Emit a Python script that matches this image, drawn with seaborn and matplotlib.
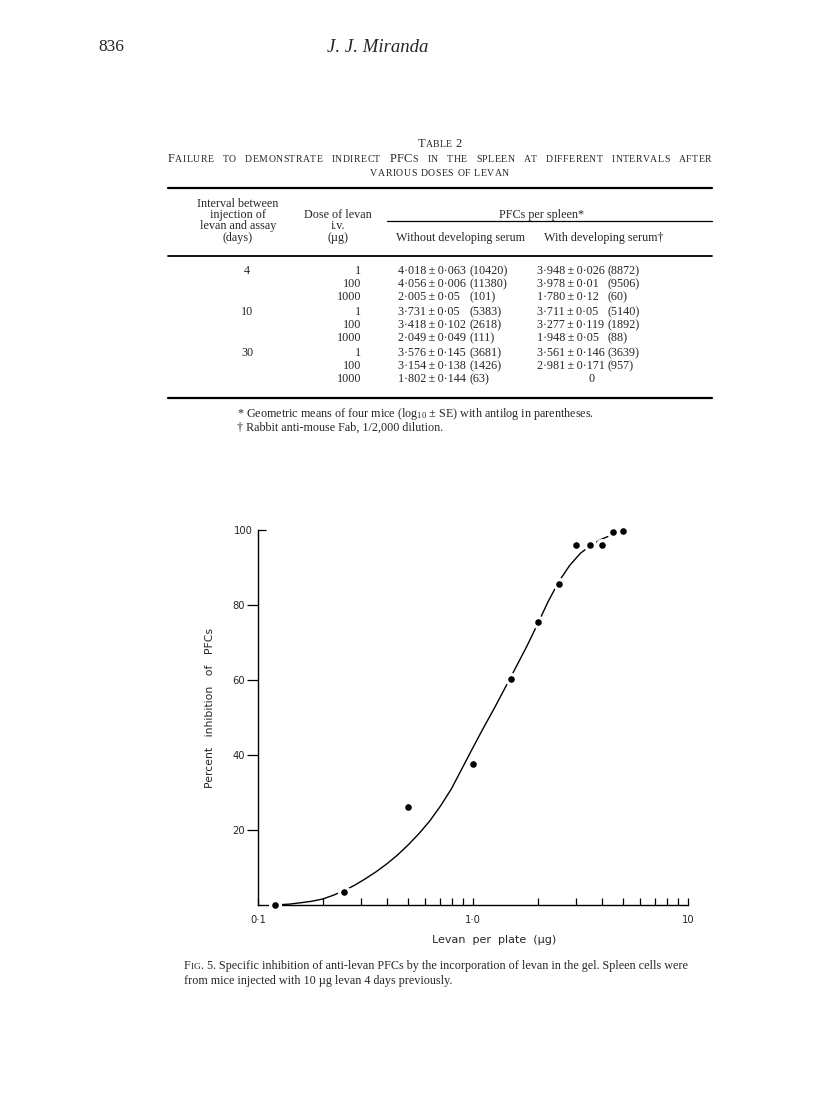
import numpy as np
import pandas as pd
import matplotlib
matplotlib.use("Agg")
import matplotlib.pyplot as plt
import seaborn as sns
from matplotlib.ticker import FixedLocator, FixedFormatter, NullFormatter

# ---------------- data ----------------
# Table 2
intervals = ["4", "10", "30"]
doses = ["1", "100", "1000"]
without_log = ["4·018", "4·056", "2·005", "3·731", "3·418", "2·049", "3·576", "3·154", "1·802"]
without_se = ["0·063", "0·006", "0·05", "0·05", "0·102", "0·049", "0·145", "0·138", "0·144"]
without_anti = ["10420", "11380", "101", "5383", "2618", "111", "3681", "1426", "63"]
with_log = ["3·948", "3·978", "1·780", "3·711", "3·277", "1·948", "3·561", "2·981", None]
with_se = ["0·026", "0·01", "0·12", "0·05", "0·119", "0·05", "0·146", "0·171", None]
with_anti = ["8872", "9506", "60", "5140", "1892", "88", "3639", "957", None]

# Fig. 5 points
dose_pts = [0.12, 0.25, 0.5, 1.0, 1.5, 2.0, 2.5, 3.0, 3.5, 4.0, 4.5, 5.0]
inhib_pts = [0, 3.5, 26.1, 37.5, 60.3, 75.6, 85.7, 96.0, 96.0, 96.0, 99.4, 99.7]
# fitted curve
curve_x = [0.12, 0.141, 0.158, 0.178, 0.2, 0.224, 0.251, 0.282, 0.316, 0.355, 0.398,
           0.447, 0.501, 0.562, 0.631, 0.708, 0.794, 0.891, 1.0, 1.12, 1.26, 1.41,
           1.58, 1.78, 2.0, 2.24, 2.51, 2.82, 3.16, 3.55, 3.98, 4.47, 5.01]
curve_y = [0.0, 0.25, 0.6, 1.0, 1.6, 2.6, 3.8, 5.3, 7.0, 8.9, 11.0,
           13.4, 16.1, 19.1, 22.5, 26.5, 31.0, 36.5, 42.0, 47.3, 52.6, 57.9,
           63.3, 69.0, 75.0, 81.0, 86.3, 90.6, 93.8, 96.0, 97.6, 98.8, 99.7]
xtick_vals = [0.1, 1.0, 10.0]
xtick_labels = ["0·1", "1·0", "10"]
xminor_vals = [0.2, 0.3, 0.4, 0.5, 0.6, 0.7, 0.8, 0.9, 2, 3, 4, 5, 6, 7, 8, 9]
ytick_vals = [20, 40, 60, 80]
ytop_val = [100]

# ---------------- style ----------------
sns.set_theme(style="white")
SERIF = ["Liberation Serif", "DejaVu Serif"]
SANS = ["DejaVu Sans"]
plt.rcParams["font.family"] = SERIF
plt.rcParams["mathtext.fontset"] = "custom"
plt.rcParams["mathtext.rm"] = "Liberation Serif"
plt.rcParams["mathtext.it"] = "Liberation Serif:italic"

W, H = 816, 1105
fig = plt.figure(figsize=(W / 100, H / 100), dpi=100)
fig.patch.set_facecolor("white")
page = fig.add_axes([0, 0, 1, 1])
page.set_xlim(0, W)
page.set_ylim(H, 0)
page.axis("off")
renderer = fig.canvas.get_renderer()

TS = 8.7  # table font size
TH = "\u2009"  # thin space


def txt(x, y, s, size=TS, ha="left", va="center", **kw):
    return page.text(x, y, s, size=size, ha=ha, va=va, family=kw.pop("family", SERIF), **kw)


def smallcaps(x, y, s, big, small, ha="center", target=None, track=0.0):
    items = []
    letters = 0.0
    nsp = 0
    for ch in s:
        if ch == " ":
            items.append(None)
            nsp += 1
            continue
        size = small if ch.islower() else big
        t = page.text(0, y, ch.upper(), size=size, ha="left", va="baseline", family=SERIF)
        w = t.get_window_extent(renderer).width + track
        items.append((t, w))
        letters += w
    spw = 0.27 * big * 100 / 72
    if target is not None and nsp:
        spw = (target - letters) / nsp
    total = letters + spw * nsp
    x0 = x - total / 2 if ha == "center" else x
    for it in items:
        if it is None:
            x0 += spw
        else:
            it[0].set_x(x0)
            x0 += it[1]
    return x0


# ---------------- page header ----------------
txt(98, 47, "836", size=12.5)
txt(378, 47, "J. J. Miranda", size=13.5, ha="center", style="italic")

L, R = 168, 712
smallcaps(440, 147, "Table 2", 9, 7, track=0.3)
smallcaps(440, 162, "Failure to demonstrate indirect PFCs in the spleen at different intervals after",
          9.0, 7.0, target=R - L, track=0.5)
smallcaps(440, 176, "various doses of levan", 9.0, 7.0, track=0.5)

# ---------------- table ----------------
page.plot([L, R], [188, 188], color="black", lw=1.6)
page.plot([387, R], [221, 221], color="black", lw=0.9)
page.plot([L, R], [256, 256], color="black", lw=1.3)
page.plot([L, R], [398, 398], color="black", lw=1.6)

hy = [204, 215, 226, 238]
for yy, s in zip(hy, ["Interval between", "injection of", "levan and assay", "(days)"]):
    txt(238, yy, s, ha="center")
for yy, s in zip(hy[1:], ["Dose of levan", "i.v.", "(µg)"]):
    txt(338, yy, s, ha="center")
txt(542, hy[1], "PFCs per spleen*", ha="center")
txt(460, hy[3], "Without developing serum", ha="center")
txt(604, hy[3], "With developing serum†", ha="center")

row_y = [271, 284, 297, 312, 325, 338, 353, 366, 379]
C1, C1P, C2, C2P = 398, 470, 537, 608
for i, yy in enumerate(row_y):
    if i % 3 == 0:
        txt(247, yy, intervals[i // 3], ha="center")
    txt(361, yy, doses[i % 3], ha="right")
    txt(C1, yy, f"{without_log[i]}{TH}±{TH}{without_se[i]}")
    txt(C1P, yy, f"({without_anti[i]})")
    if with_log[i] is None:
        txt(592, yy, "0", ha="center")
    else:
        txt(C2, yy, f"{with_log[i]}{TH}±{TH}{with_se[i]}")
        txt(C2P, yy, f"({with_anti[i]})")

txt(237, 414, r"* Geometric means of four mice ($\mathregular{log_{10}}$ ± SE) with antilog in parentheses.")
txt(237, 428, "† Rabbit anti-mouse Fab, 1/2,000 dilution.")

# ---------------- figure 5 ----------------
ax = fig.add_axes([258 / W, 1 - 905 / H, 430 / W, 375 / H])
ax.set_facecolor("none")
curve_df = pd.DataFrame({"dose": curve_x, "inhib": curve_y})
pts_df = pd.DataFrame({"dose": dose_pts, "inhib": inhib_pts})
sns.lineplot(data=curve_df, x="dose", y="inhib", sort=False, estimator=None,
             color="black", lw=1.0, ax=ax, zorder=2)
sns.scatterplot(data=pts_df, x="dose", y="inhib", color="black", s=50,
                edgecolor="white", linewidth=2.3, ax=ax, zorder=3, clip_on=False)
ax.set_xscale("log")
ax.set_xlim(0.1, 10)
ax.set_ylim(0, 100)
for sp in ["top", "right"]:
    ax.spines[sp].set_visible(False)
for sp in ["left", "bottom"]:
    ax.spines[sp].set_color("black")
    ax.spines[sp].set_linewidth(1.0)

ax.xaxis.set_major_locator(FixedLocator(xtick_vals))
ax.xaxis.set_major_formatter(FixedFormatter(xtick_labels))
ax.xaxis.set_minor_locator(FixedLocator(xminor_vals))
ax.xaxis.set_minor_formatter(NullFormatter())
ax.tick_params(axis="x", which="both", direction="in", length=5, width=0.9,
               color="black", pad=7, labelsize=7.2, bottom=True)
ax.yaxis.set_major_locator(FixedLocator(ytick_vals))
ax.yaxis.set_major_formatter(FixedFormatter([str(v) for v in ytick_vals]))
ax.yaxis.set_minor_locator(FixedLocator(ytop_val))
ax.yaxis.set_minor_formatter(FixedFormatter([str(v) for v in ytop_val]))
ax.tick_params(axis="y", which="major", direction="out", length=8, width=0.9,
               color="black", pad=1.5, labelsize=7.2, left=True)
ax.tick_params(axis="y", which="minor", direction="in", length=5.5, width=0.9,
               color="black", pad=3.5, labelsize=7.2, left=True)
for lab in ax.get_xticklabels() + ax.get_yticklabels() + ax.get_yticklabels(minor=True):
    lab.set_family(SANS)
ax.set_xlabel("")
ax.set_ylabel("")
txt(494, 940, "Levan  per  plate  (µg)", size=8.0, ha="center", family=SANS)
page.text(210, 708, "Percent   inhibition   of   PFCs", size=7.8, ha="center", va="center",
          rotation=90, family=SANS)

# ---------------- caption ----------------
cap_b1, cap_b2 = 969, 984
CX = 184
xe = smallcaps(CX, cap_b1, "Fig.", 8.7, 6.8, ha="left")
txt(xe, cap_b1, " 5. Specific inhibition of anti-levan PFCs by the incorporation of levan in the gel. Spleen cells were",
    va="baseline")
txt(CX, cap_b2, "from mice injected with 10 µg levan 4 days previously.", va="baseline")

fig.savefig("out.png", dpi=100, facecolor="white")
